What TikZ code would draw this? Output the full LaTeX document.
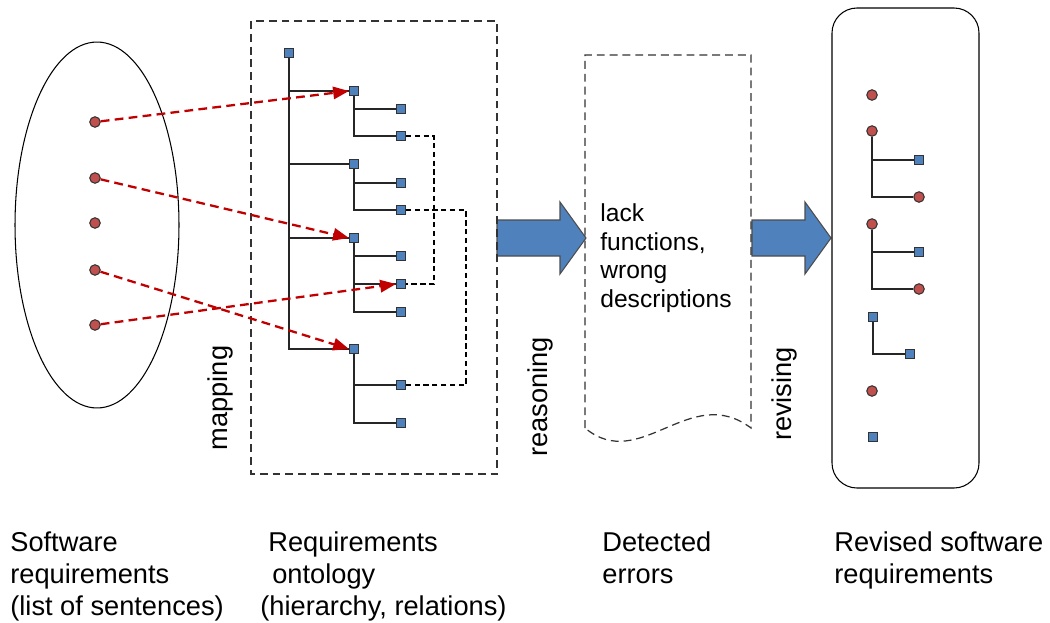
\documentclass[tikz,border=0pt]{standalone}
\usepackage{fontspec}
\setmainfont{Liberation Sans}
\usetikzlibrary{arrows.meta, positioning}
\definecolor{dotred}{HTML}{C0504D}
\definecolor{boxblue}{HTML}{4F81BD}
\definecolor{mapred}{HTML}{C00000}

\begin{document}
\begin{tikzpicture}[x=0.02cm, y=-0.02cm,
	reqdot/.style={circle, fill=dotred, draw=black!80, line width=0.6pt, minimum size=0.21cm, inner sep=0pt},
	concept/.style={rectangle, fill=boxblue, draw=black!80, line width=0.6pt, minimum size=0.18cm, inner sep=0pt},
	branch/.style={draw=black!85, line width=0.6pt},
	mapsto/.style={-{Triangle[length=9pt,width=7pt]}, mapred, line width=1.3pt, dash pattern=on 5pt off 3pt},
	relation/.style={black, line width=1.2pt, dash pattern=on 3pt off 2pt},
	dashframe/.style={black!80, line width=0.7pt, dash pattern=on 4.5pt off 2.8pt},
	bigarrow/.style={fill=boxblue, draw=black!70, line width=0.6pt},
	caption/.style={anchor=base west, align=left, inner sep=0pt, font=\fontsize{15.5}{18.2}\selectfont},
	stagelabel/.style={rotate=90, font=\fontsize{15.5}{18.2}\selectfont}]

	\useasboundingbox (0,0) rectangle (1050,622);

	\draw[line width=0.6pt] (97,225) ellipse [x radius=1.64cm, y radius=3.66cm];
	\foreach \i/\y in {1/122,2/178,3/223,4/270,5/325}
		\node[reqdot] (s\i) at (95,\y) {};

	\draw[bigarrow] (497,220) -- (560,220) -- (560,202) -- (586,238) -- (560,274) -- (560,256) -- (497,256) -- cycle;
	\draw[bigarrow] (752,220) -- (805,220) -- (805,202) -- (831,238) -- (805,274) -- (805,256) -- (752,256) -- cycle;

	\draw[dashframe] (251,21) rectangle (497,474);
	\draw[dashframe] (585,428) -- (585,55) -- (751,55) -- (751,428) .. controls (690,382) and (640,474) .. (585,428);
	\draw[line width=0.6pt, rounded corners=0.5cm] (832,8) rectangle (979,488);

	\node[concept] (root) at (289,53) {};
	\node[concept] (c1) at (354,91) {};
	\node[concept] (c2) at (354,164) {};
	\node[concept] (c3) at (354,238) {};
	\node[concept] (c4) at (354,349) {};
	\node[concept] (c11) at (401,109) {};
	\node[concept] (c12) at (401,136) {};
	\node[concept] (c21) at (401,183) {};
	\node[concept] (c22) at (401,210) {};
	\node[concept] (c31) at (401,256) {};
	\node[concept] (c32) at (401,284) {};
	\node[concept] (c33) at (401,312) {};
	\node[concept] (c41) at (401,385) {};
	\node[concept] (c42) at (401,423) {};

	\foreach \c in {c1,c2,c3,c4}
		\draw[branch] (root.south) |- (\c.west);
	\foreach \p/\c in {c1/c11,c1/c12,c2/c21,c2/c22,c3/c31,c3/c32,c3/c33,c4/c41,c4/c42}
		\draw[branch] (\p.south) |- (\c.west);

	\draw[relation] (c12.east) -- ++(28,0) |- (c32.east);
	\draw[relation] (c22.east) -- ++(60,0) |- (c41.east);

	\draw[mapsto] (s1) -- (c1.west);
	\draw[mapsto] (s2) -- (c3.west);
	\draw[mapsto] (s4) -- (c4.west);
	\draw[mapsto] (s5) -- (c32.west);

	\node[anchor=base west, align=left, inner sep=0pt, font=\fontsize{14}{16.2}\selectfont] (errtext) at (600,307) {lack\\functions,\\wrong\\descriptions};

	\node[reqdot] (r1) at (872,95) {};
	\node[reqdot] (r2) at (872,131) {};
	\node[concept] (r21) at (919,160) {};
	\node[reqdot] (r22) at (919,197) {};
	\node[reqdot] (r3) at (872,224) {};
	\node[concept] (r31) at (919,252) {};
	\node[reqdot] (r32) at (919,289) {};
	\node[concept] (r4) at (873,317) {};
	\node[concept] (r41) at (910,354) {};
	\node[reqdot] (r5) at (872,391) {};
	\node[concept] (r6) at (873,437) {};
	\foreach \p/\c in {r2/r21,r2/r22,r3/r31,r3/r32,r4/r41}
		\draw[branch] (\p.south) |- (\c.west);

	\node[stagelabel] (lmap) at (220,398) {mapping};
	\node[stagelabel] (lreason) at (540,397) {reasoning};
	\node[stagelabel] (lrevise) at (784,394) {revising};

	\node[caption] (capsrc) at (10,615) {Software\\requirements\\(list of sentences)};
	\node[caption] (capont) at (260,615) {\hspace*{0.16cm}Requirements\\\hspace*{0.24cm}ontology\\(hierarchy, relations)};
	\node[caption] (caperr) at (602,583) {Detected\\errors};
	\node[caption] (caprev) at (834,583) {Revised software\\requirements};
\end{tikzpicture}
\end{document}
